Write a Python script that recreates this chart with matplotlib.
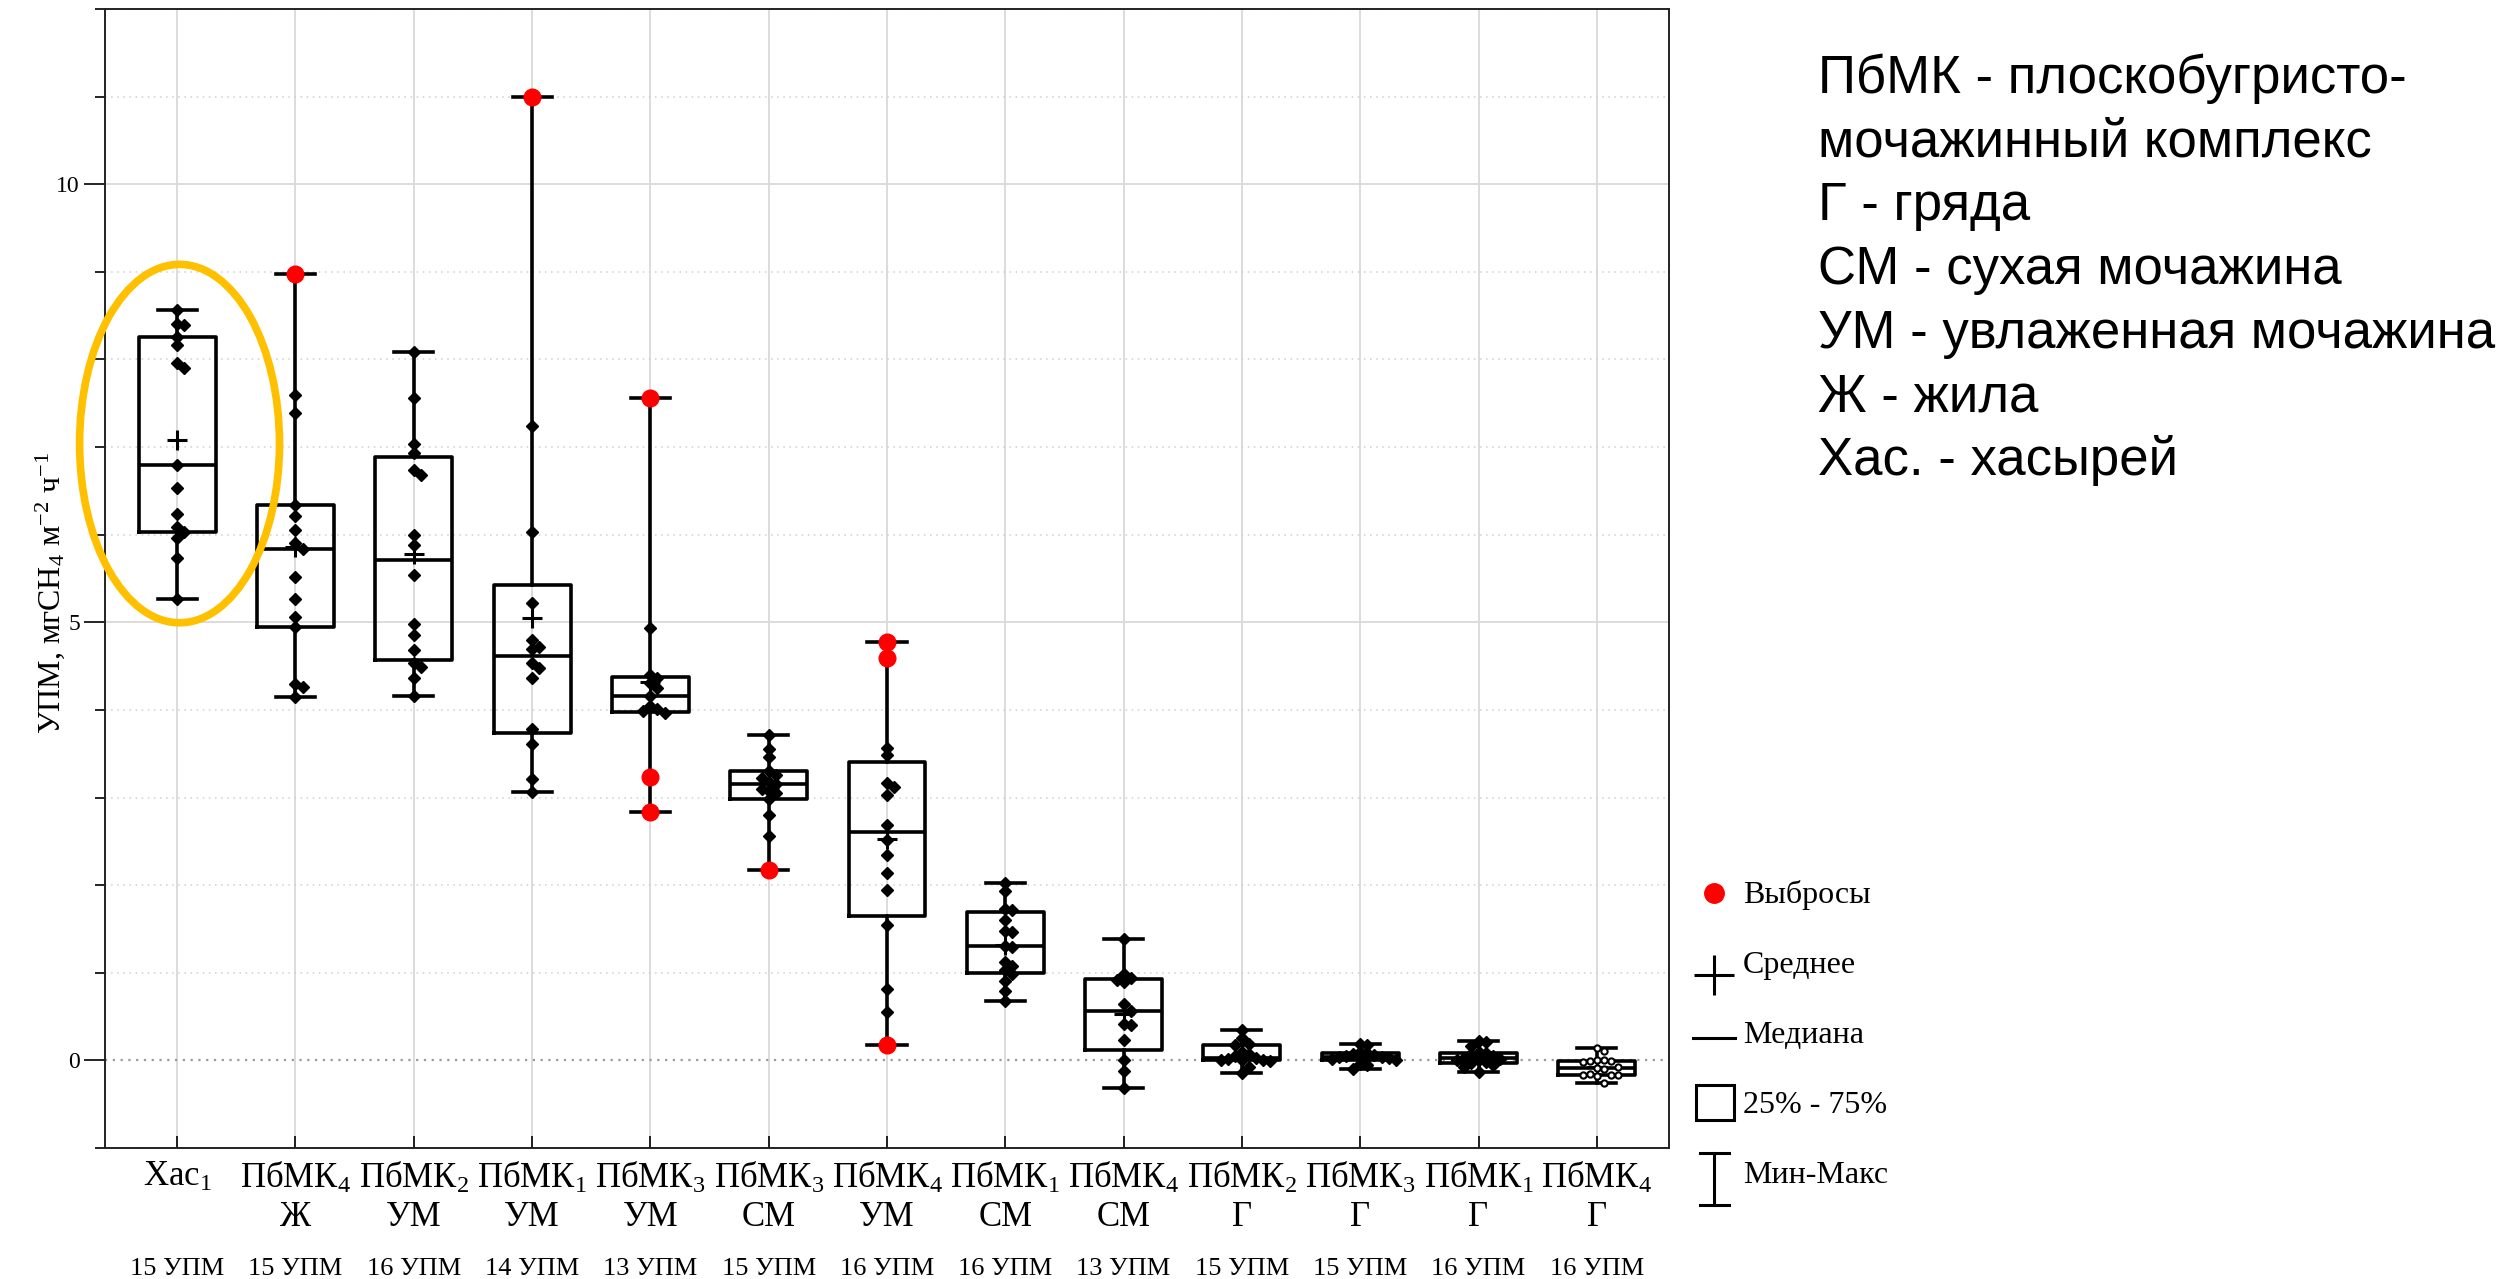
"""УПМ метана по элементам микрорельефа: боксплоты с точками."""
import matplotlib
matplotlib.use("Agg")
import matplotlib.pyplot as plt
from matplotlib.patches import Ellipse, Rectangle
import numpy as np

plt.rcParams["font.family"] = ["Liberation Serif", "DejaVu Serif"]
plt.rcParams["mathtext.fontset"] = "custom"
plt.rcParams["mathtext.rm"] = "Liberation Serif"
plt.rcParams["mathtext.it"] = "Liberation Serif:italic"
plt.rcParams["mathtext.default"] = "regular"

# --- данные ---
labels = ["Хас$_1$", "ПбМК$_4$\nЖ", "ПбМК$_2$\nУМ", "ПбМК$_1$\nУМ", "ПбМК$_3$\nУМ",
          "ПбМК$_3$\nСМ", "ПбМК$_4$\nУМ", "ПбМК$_1$\nСМ", "ПбМК$_4$\nСМ",
          "ПбМК$_2$\nГ", "ПбМК$_3$\nГ", "ПбМК$_1$\nГ", "ПбМК$_4$\nГ"]
counts = ["15 УПМ", "15 УПМ", "16 УПМ", "14 УПМ", "13 УПМ", "15 УПМ", "16 УПМ",
          "16 УПМ", "13 УПМ", "15 УПМ", "15 УПМ", "16 УПМ", "16 УПМ"]

xac1 = [8.56, 8.40, 8.39, 8.26, 8.17, 7.96, 7.90, 6.80, 6.53, 6.24, 6.09, 6.03, 5.96, 5.73, 5.27]
pb4_zh = [7.60, 7.39, 6.34, 6.21, 6.05, 5.90, 5.84, 5.52, 5.27, 5.06, 4.95, 4.30, 4.26, 4.15]
pb2_um = [8.09, 7.56, 7.04, 6.93, 6.74, 6.68, 6.00, 5.88, 5.54, 4.98, 4.85, 4.68, 4.53, 4.49, 4.37, 4.16]
pb1_um = [7.24, 6.03, 5.22, 4.80, 4.72, 4.69, 4.53, 4.48, 4.37, 3.78, 3.61, 3.21, 3.06]
pb3_um = [4.94, 4.40, 4.36, 4.31, 4.25, 4.16, 4.05, 4.01, 3.99, 3.97]
pb3_sm = [3.71, 3.55, 3.46, 3.30, 3.26, 3.22, 3.18, 3.15, 3.10, 3.08, 3.05, 2.98, 2.80, 2.56]
pb4_um = [3.57, 3.48, 3.17, 3.12, 3.03, 2.69, 2.52, 2.34, 2.14, 1.95, 1.54, 0.82, 0.55]
pb1_sm = [2.03, 1.93, 1.73, 1.72, 1.60, 1.48, 1.46, 1.31, 1.29, 1.12, 1.08, 1.03, 0.99, 0.91, 0.79, 0.68]
pb4_sm = [1.38, 0.99, 0.94, 0.92, 0.90, 0.64, 0.56, 0.42, 0.40, 0.23, 0.00, -0.12, -0.31]
pb2_g = [0.35, 0.25, 0.19, 0.18, 0.10, 0.07, 0.05, 0.03, 0.02, 0.01, 0.01, 0.00, -0.01, -0.07, -0.14]
pb3_g = [0.19, 0.17, 0.09, 0.08, 0.07, 0.06, 0.05, 0.04, 0.04, 0.03, 0.02, 0.01, -0.04, -0.05, -0.10]
pb1_g = [0.22, 0.21, 0.16, 0.09, 0.08, 0.07, 0.05, 0.03, 0.02, 0.01, 0.00, -0.02, -0.03, -0.05, -0.07, -0.13]
pb4_g = [0.14, 0.11, 0.00, 0.00, -0.01, -0.01, -0.02, -0.08, -0.09, -0.10, -0.16, -0.17, -0.17, -0.17, -0.18, -0.26]

# выбросы (красные точки), входят в выборку
out_pb4_zh = [8.97]
out_pb1_um = [11.0]
out_pb3_um = [7.56, 3.23, 2.84]
out_pb3_sm = [2.17]
out_pb4_um = [4.77, 4.59, 0.17]

groups = [xac1, pb4_zh, pb2_um, pb1_um, pb3_um, pb3_sm, pb4_um, pb1_sm, pb4_sm, pb2_g, pb3_g, pb1_g, pb4_g]
outliers = [[], out_pb4_zh, [], out_pb1_um, out_pb3_um, out_pb3_sm, out_pb4_um, [], [], [], [], [], []]
hollow = {12}  # последняя группа нарисована пустыми кружками

legend_items = ["Выбросы", "Среднее", "Медиана", "25% - 75%", "Мин-Макс"]
notes = ["ПбМК - плоскобугристо-", "мочажинный комплекс", "Г - гряда", "СМ - сухая мочажина",
         "УМ - увлаженная мочажина", "Ж - жила", "Хас. - хасырей"]

W, H = 2509, 1279


def swarm(vals, step=0.06, thr=0.085):
    placed, offs = [], []
    for v in vals:
        for c in [0, 1, -1, 2, -2, 3, -3, 4, -4, 5, -5, 6, -6]:
            x = c * step
            if all(abs(v - pv) > thr or abs(x - px) > step * 0.9 for pv, px in placed):
                break
        placed.append((v, x))
        offs.append(x)
    return np.array(offs)


fig = plt.figure(figsize=(W / 100, H / 100), dpi=100)
ax = fig.add_axes([105 / W, 1 - 1148 / H, (1669 - 105) / W, (1148 - 9) / H])

stats = []
for g, o in zip(groups, outliers):
    a = np.array(g + o, dtype=float)
    q1, med, q3 = np.percentile(a, [25, 50, 75], method="weibull")
    stats.append(dict(med=med, q1=q1, q3=q3, whislo=a.min(), whishi=a.max(),
                      mean=a.mean(), fliers=[]))
pos = np.arange(len(groups))
lw = 2.6
ax.bxp(stats, positions=pos, widths=0.65, capwidths=0.33, showmeans=True,
       showfliers=False,
       boxprops=dict(color="k", lw=lw), whiskerprops=dict(color="k", lw=lw),
       capprops=dict(color="k", lw=lw), medianprops=dict(color="k", lw=lw),
       meanprops=dict(marker="+", markersize=14, markeredgecolor="k", markeredgewidth=2.2),
       zorder=3)

for i, (g, o) in enumerate(zip(groups, outliers)):
    allv = np.array(g + o, dtype=float)
    order = np.argsort(-allv)
    offs = np.empty(len(allv))
    offs[order] = swarm(allv[order])
    xs = i + offs[:len(g)]
    if i in hollow:
        ax.plot(xs, g, "o", ms=4.5, mfc="white", mec="k", mew=1.5, zorder=4)
    else:
        ax.plot(xs, g, "D", ms=6.5, color="k", zorder=4)
    if o:
        ax.plot(np.full(len(o), float(i)), o, "o", ms=12, color="red", zorder=5)

# сетка
ax.set_xlim(-0.61, 12.61)
ax.set_ylim(-1.0, 12.0)
ax.set_xticks(pos)
ax.set_xticklabels(labels, fontsize=25, linespacing=1.2)
ax.set_yticks([0, 5, 10])
ax.set_yticklabels(["0", "5", "10"], fontsize=17)
ax.set_yticks(np.arange(-1, 13, 1), minor=True)
ax.tick_params(axis="y", which="major", direction="out", length=15, width=1.2, pad=3)
ax.tick_params(axis="y", which="minor", direction="out", length=7, width=1.2)
ax.tick_params(axis="x", which="major", direction="in", length=9, width=1.2, pad=9)
for i in pos:
    ax.axvline(i, color="#d9d9d9", lw=1.3, zorder=0)
for v in [5, 10]:
    ax.axhline(v, color="#d9d9d9", lw=1.3, zorder=0)
for v in range(-1, 13):
    if v not in (0, 5, 10):
        ax.axhline(v, color="#d0d0d0", lw=1.1, ls=(0, (1, 3)), zorder=0)
ax.axhline(0, color="#9a9a9a", lw=1.6, ls=(0, (1, 2.5)), zorder=1)
for s in ax.spines.values():
    s.set_linewidth(1.4)
    s.set_color("#222222")

ax.set_ylabel("УПМ, мгСН$_4$ м$^{-2}$ ч$^{-1}$", fontsize=23)
ax.yaxis.set_label_coords(-0.024, 0.487)

for i, c in enumerate(counts):
    ax.annotate(c, xy=(i, 0), xycoords=("data", "axes fraction"), xytext=(0, -127 * 0.72),
                textcoords="offset points", ha="center", va="baseline", fontsize=19)

# эллипс вокруг хасырея
ax.add_patch(Ellipse((0.02, 7.04), 1.69, 4.09, fill=False, ec="#FFC000", lw=5.5,
                     zorder=6, clip_on=False))

# легенда и подписи в пиксельных координатах
ov = fig.add_axes([0, 0, 1, 1], facecolor="none")
ov.set_xlim(0, W)
ov.set_ylim(H, 0)
ov.axis("off")
kx = 1714
ov.plot([kx], [893], "o", ms=14, color="red")
ov.plot([kx], [975], "+", ms=29, mec="k", mew=2.2)
ov.plot([1693, 1735], [1038, 1038], color="k", lw=2.2)
ov.add_patch(Rectangle((1696, 1085), 38, 35, fill=False, ec="k", lw=2.2))
ov.plot([kx, kx], [1153, 1205], color="k", lw=2.2)
ov.plot([1700, 1729], [1153, 1153], color="k", lw=2.2)
ov.plot([1700, 1729], [1205, 1205], color="k", lw=2.2)
for j, t in enumerate(legend_items):
    ov.text(1743, 903 + 70 * j, t, fontsize=23, va="baseline", ha="left")

for j, t in enumerate(notes):
    ov.text(1818, 93 + 63.7 * j, t, fontsize=38, va="baseline", ha="left",
            family=["Liberation Sans", "DejaVu Sans"])

fig.savefig("out.png", dpi=100, facecolor="white")
